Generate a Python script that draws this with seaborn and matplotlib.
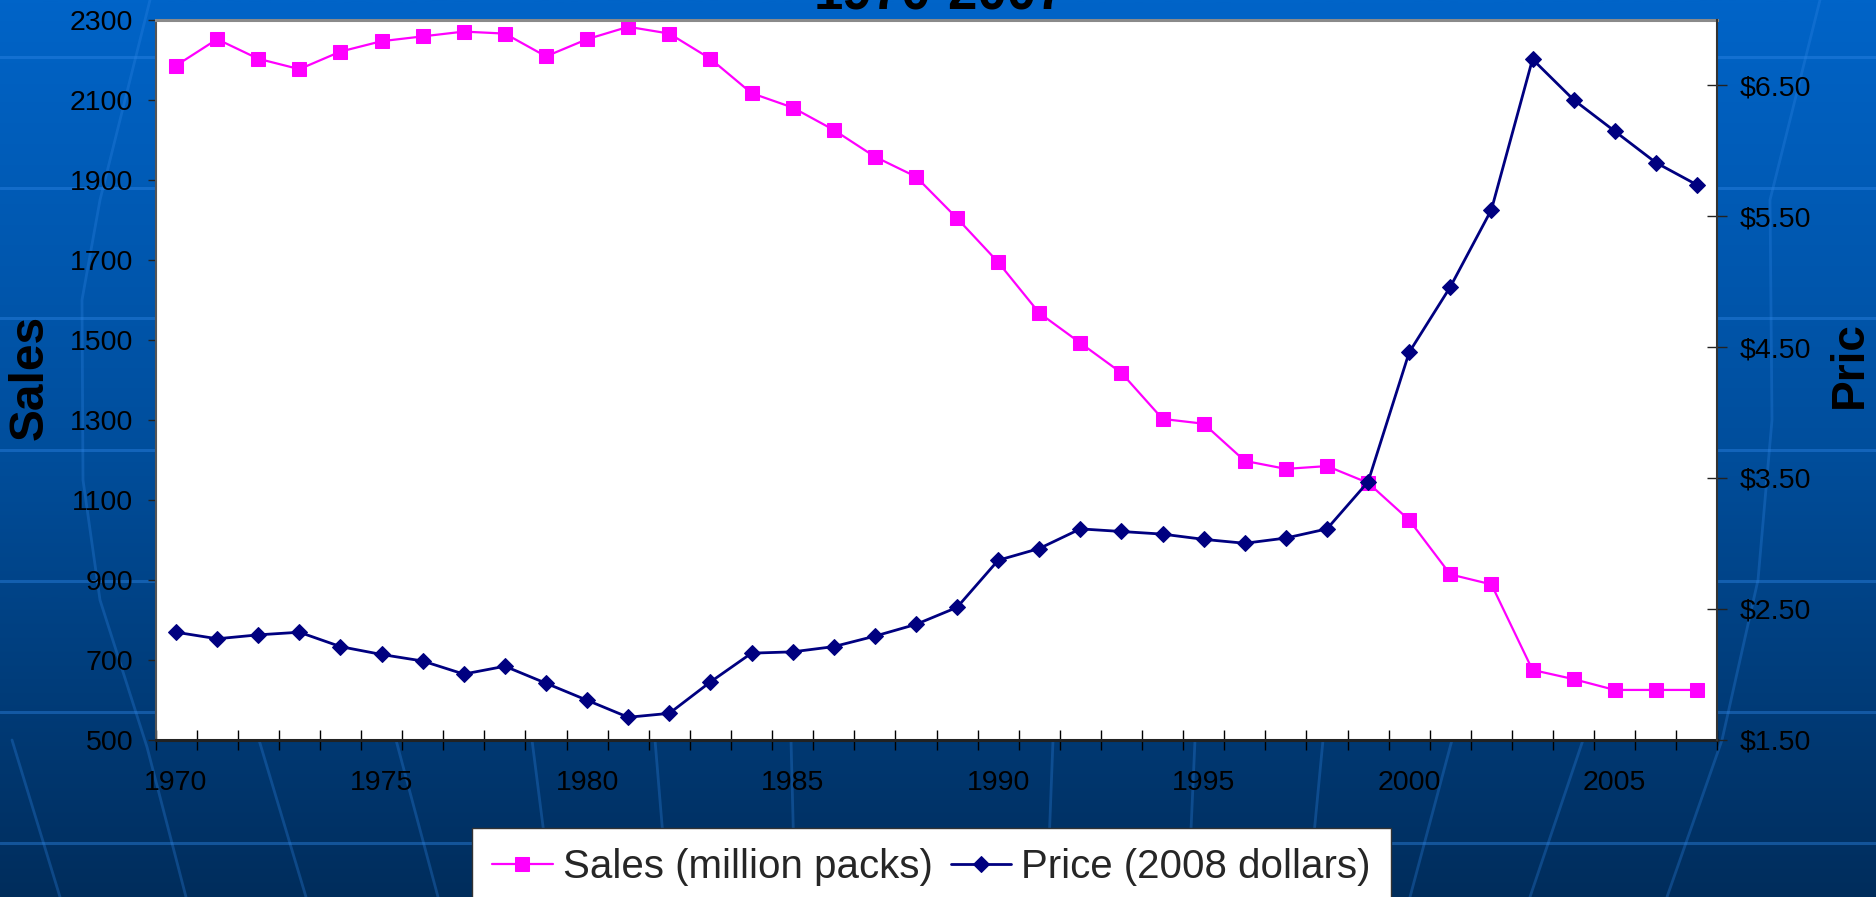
import numpy as np
import pandas as pd
import matplotlib
matplotlib.use("Agg")
import matplotlib.pyplot as plt
import seaborn as sns
from matplotlib.colors import LinearSegmentedColormap
from matplotlib.ticker import FuncFormatter

# ---------------- data ----------------
years = list(range(1970, 2008))
sales = [2186, 2252, 2203, 2177, 2221, 2247, 2259, 2271, 2266, 2209,
         2252, 2283, 2266, 2203, 2117, 2081, 2025, 1958, 1908, 1804,
         1694, 1567, 1492, 1417, 1302, 1290, 1197, 1177, 1184, 1142,
         1049, 913, 888, 674, 651, 624, 624, 624]
price = [2.32, 2.27, 2.30, 2.32, 2.21, 2.15, 2.10, 2.00, 2.06, 1.93,
         1.80, 1.67, 1.70, 1.94, 2.16, 2.17, 2.21, 2.29, 2.38, 2.51,
         2.87, 2.96, 3.11, 3.09, 3.07, 3.03, 3.00, 3.04, 3.11, 3.47,
         4.46, 4.96, 5.55, 6.70, 6.39, 6.15, 5.91, 5.74]
left_ticks = [500, 700, 900, 1100, 1300, 1500, 1700, 1900, 2100, 2300]
right_ticks = [1.5, 2.5, 3.5, 4.5, 5.5, 6.5]
label_years = [1970, 1975, 1980, 1985, 1990, 1995, 2000, 2005]
sales_label = "Sales (million packs)"
price_label = "Price (2008 dollars)"
title_text = "1970-2007"

df = pd.DataFrame({"year": years, "sales": sales, "price": price})
df["pos"] = np.arange(len(df))

sns.set_style("white")
plt.rcParams["font.family"] = ["Liberation Sans", "DejaVu Sans"]

W, H = 1876, 897
fig = plt.figure(figsize=(W / 100, H / 100), dpi=100)

# ---------------- background ----------------
bg = fig.add_axes([0, 0, 1, 1], zorder=-10)
grad = np.linspace(0, 1, 512)[:, None]
cmap = LinearSegmentedColormap.from_list("bg", ["#0064C8", "#004E9C", "#002D5C"])
bg.imshow(grad, aspect="auto", cmap=cmap, extent=[0, W, H, 0])
bg.set_xlim(0, W)
bg.set_ylim(H, 0)
bg.axis("off")
for yy in [57, 188, 318, 450, 581, 712, 843]:
    bg.plot([0, W], [yy, yy], color="#2F86E6", alpha=0.42, lw=2.2)
arcs = [
    [(150, 0), (100, 200), (82, 300), (83, 480), (100, 600), (147, 747), (186, 897)],
    [(1820, 0), (1770, 200), (1772, 420), (1758, 580), (1722, 740), (1667, 897)],
    [(12, 740), (60, 897)],
    [(259, 740), (306, 897)],
    [(396, 740), (438, 897)],
    [(532, 740), (552, 897)],
    [(655, 740), (668, 897)],
    [(791, 740), (795, 897)],
    [(1053, 740), (1047, 897)],
    [(1195, 740), (1188, 897)],
    [(1323, 740), (1308, 897)],
    [(1452, 740), (1410, 897)],
    [(1583, 740), (1530, 897)],
]
for pts in arcs:
    xs, ys = zip(*pts)
    bg.plot(xs, ys, color="#2F86E6", alpha=0.3, lw=2.0)

# ---------------- main axes ----------------
L, R, T, B = 155.5, 1717.5, 20, 739.5
ax = fig.add_axes([L / W, 1 - B / H, (R - L) / W, (B - T) / H])
ax.set_facecolor("white")
ax2 = ax.twinx()

sns.lineplot(data=df, x="pos", y="sales", ax=ax, color="#FF00FF", marker="s",
             markersize=10, markeredgecolor="#FF00FF", linewidth=1.6, legend=False)
sns.lineplot(data=df, x="pos", y="price", ax=ax2, color="#000080", marker="D",
             markersize=8, markeredgecolor="#000080", linewidth=2.0, legend=False)

ax.set_xlim(-0.5, len(years) - 0.5)
ax.set_ylim(500, 2300)
ax2.set_ylim(1.5, 7.0)
ax.set_xlabel("")
ax.set_ylabel("")
ax2.set_ylabel("")

ax.set_xticks(np.arange(-0.5, len(years), 1.0))
ax.set_xticklabels([])
ax.set_xticks([years.index(y) for y in label_years], minor=True)
ax.set_xticklabels([str(y) for y in label_years], minor=True)
ax.tick_params(axis="x", which="major", direction="inout", length=14.4, width=1, color="black", bottom=True)
ax.tick_params(axis="x", which="minor", length=0, pad=22, labelsize=20.5, labelcolor="black", bottom=True)

ax.set_yticks(left_ticks)
ax.tick_params(axis="y", direction="out", length=6, width=1, color="#222222", pad=10,
               labelsize=20.5, labelcolor="black", left=True)
ax2.set_yticks(right_ticks)
ax2.yaxis.set_major_formatter(FuncFormatter(lambda v, p: f"${v:.2f}"))
ax2.tick_params(axis="y", direction="inout", length=13.7, width=1, color="#222222", pad=9.4,
                labelsize=20.5, labelcolor="black", right=True)

for a in (ax, ax2):
    for s in a.spines.values():
        s.set_visible(False)
ax.spines["left"].set_visible(True)
ax.spines["left"].set_color("#555555")
ax.spines["left"].set_linewidth(1.5)
ax.spines["bottom"].set_visible(True)
ax.spines["bottom"].set_color("#222222")
ax.spines["bottom"].set_linewidth(2.2)
ax.spines["top"].set_visible(True)
ax.spines["top"].set_color("#8A8A8A")
ax.spines["top"].set_linewidth(2.2)
ax2.spines["right"].set_visible(True)
ax2.spines["right"].set_color("#333333")
ax2.spines["right"].set_linewidth(1.5)

# ---------------- texts ----------------
fig.text(940 / W, 1 - 10 / H, title_text, ha="center", va="baseline",
         fontsize=38, fontweight="bold", color="black")
fig.text(30 / W, 1 - 377 / H, "Sales", rotation=90, ha="center", va="center",
         fontsize=34.5, fontweight="bold", color="black")
fig.text(1849.5 / W, 1 - 365 / H, "Pric", rotation=90, ha="center", va="center",
         fontsize=33, fontweight="bold", color="black")

# ---------------- legend ----------------
handles = [ax.get_lines()[0], ax2.get_lines()[0]]
leg = fig.legend(handles, [sales_label, price_label], loc="upper left",
                 bbox_to_anchor=(472 / W, 1 - 828 / H), ncol=2, fontsize=29,
                 frameon=True, fancybox=False, facecolor="white", edgecolor="#333333",
                 framealpha=1, borderpad=0.5, borderaxespad=0, handlelength=1.5,
                 handletextpad=0.25, columnspacing=0.45, numpoints=1)
leg.get_frame().set_linewidth(1.0)

fig.savefig("out.png", dpi=100)
